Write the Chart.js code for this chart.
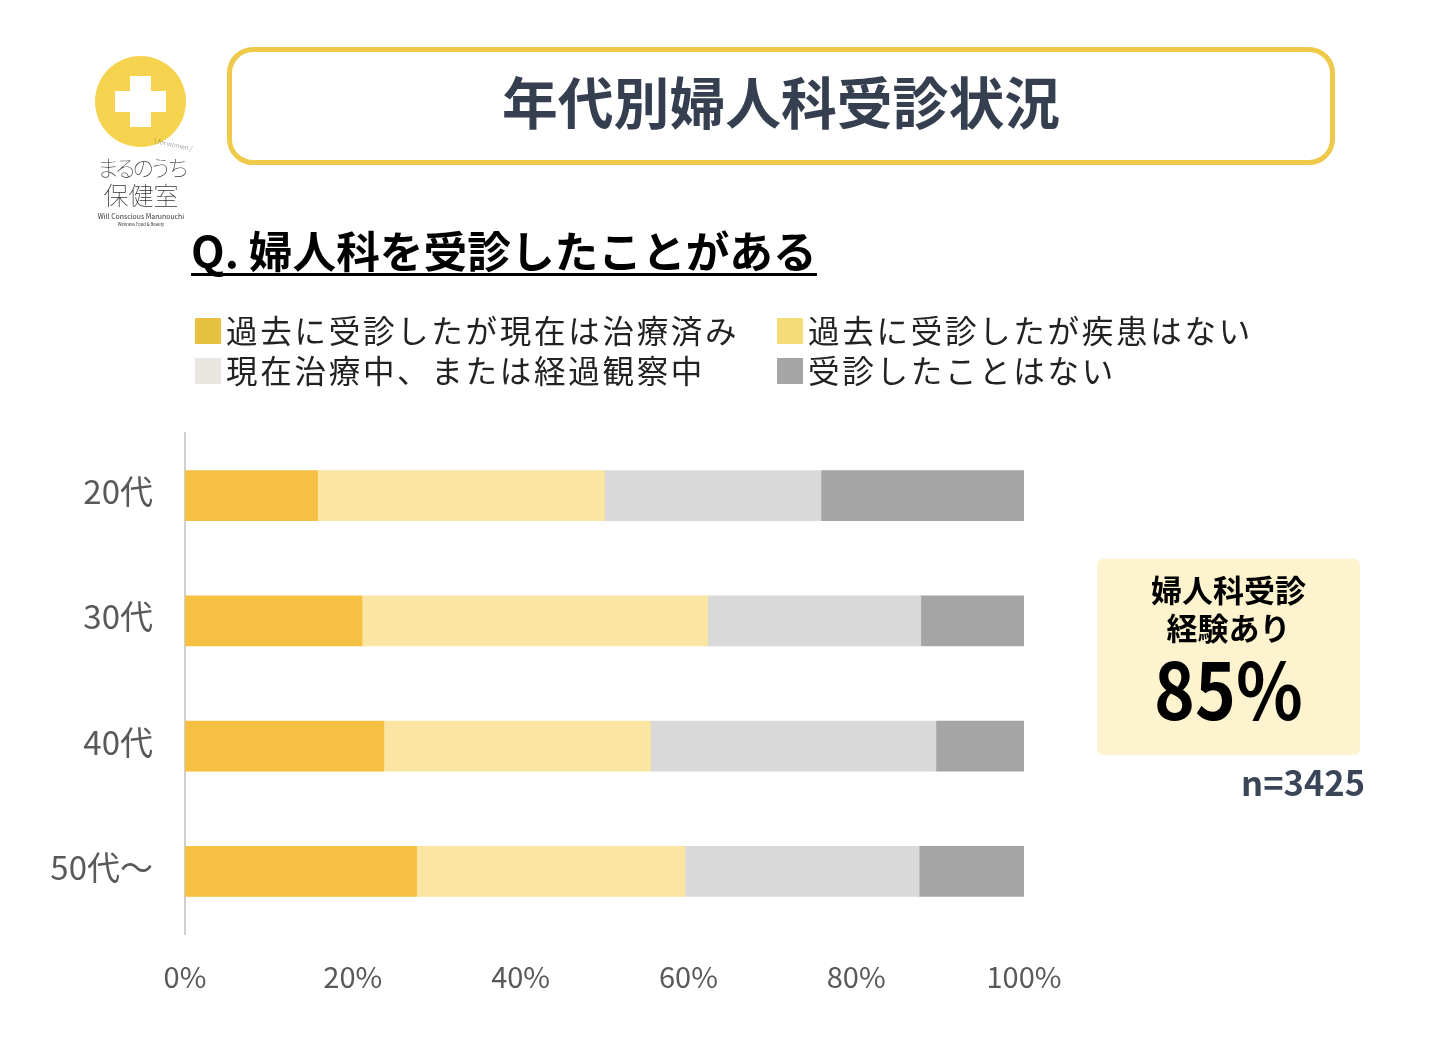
<!DOCTYPE html>
<html lang="ja">
<head>
<meta charset="utf-8">
<title>年代別婦人科受診状況</title>
<script src="https://cdn.jsdelivr.net/npm/chart.js@4"></script>
<style>
  html, body { margin: 0; padding: 0; background: #fff; }
  body { position: relative; width: 1436px; height: 1040px; overflow: hidden; font-family: "Noto Sans CJK JP", sans-serif; }
  #chart { position: absolute; left: 0; top: 0; }
  .abs { position: absolute; white-space: nowrap; line-height: 1; }
  .title-box { position: absolute; left: 227px; top: 47px; width: 1098px; height: 108px; border: 5px solid #eec94a; border-radius: 26px; text-align: center; line-height: 96px; font-size: 55.8px; font-weight: 700; color: #353f50; }
  .question { left: 191px; top: 226px; font-size: 43.7px; font-weight: 700; color: #000; line-height: 47px; border-bottom: 3px solid #000; }
  .swatch { position: absolute; width: 26px; height: 26px; }
  .legend-text { font-size: 31.5px; letter-spacing: 2.72px; color: #222; }
  .note { position: absolute; left: 1097px; top: 559px; width: 263px; height: 196px; background: #fdf3cf; border-radius: 6px; }
  .note div { position: absolute; width: 100%; text-align: center; color: #000; font-weight: 700; line-height: 1; white-space: nowrap; }
  .n { right: 71px; top: 764px; font-size: 34.5px; font-weight: 700; color: #3a4558; }
  .logo-circle { position: absolute; left: 95px; top: 56px; width: 91px; height: 91px; border-radius: 50%; background: #f6d34f; }
  .plus-h { position: absolute; left: 115px; top: 91px; width: 51px; height: 21px; background: #fff; }
  .plus-v { position: absolute; left: 130px; top: 76px; width: 21px; height: 51px; background: #fff; }
  .logo { color: #333; font-weight: 100; text-align: center; }
</style>
</head>
<body>
<canvas id="chart" width="1436" height="1040"></canvas>

<div class="logo-circle"></div><div class="plus-h"></div><div class="plus-v"></div>
<div class="abs logo" style="left:154px;top:141px;font-size:6.5px;transform:rotate(12deg)">\ for women /</div>
<div class="abs logo" style="left:96px;top:155px;font-size:22px;width:90px;letter-spacing:-4.4px">まるのうち</div>
<div class="abs logo" style="left:96px;top:182px;font-size:25px;width:90px">保健室</div>
<div class="abs logo" style="left:88px;top:213px;font-size:6.9px;width:106px;font-weight:400">Will Conscious Marunouchi</div>
<div class="abs logo" style="left:88px;top:222px;font-size:4.2px;width:106px;font-weight:400">Wellness Food &amp; Beauty</div>

<div class="title-box">年代別婦人科受診状況</div>
<div class="abs question">Q. 婦人科を受診したことがある</div>
<div id="legend"></div>

<div class="note">
  <div style="top:14px;font-size:31px">婦人科受診</div>
  <div style="top:52px;font-size:31px">経験あり</div>
  <div style="top:88px;font-size:78px;transform:scaleX(0.89)">85%</div>
</div>
<div class="abs n">n=3425</div>

<script>
const ageGroups = ['20代', '30代', '40代', '50代～'];
const seriesNames = ['過去に受診したが現在は治療済み', '過去に受診したが疾患はない', '現在治療中、または経過観察中', '受診したことはない'];
const treatedPast = [15.8, 21.1, 23.7, 27.6];
const noDisease = [34.2, 41.2, 31.8, 32.0];
const inTreatment = [25.8, 25.4, 34.0, 27.9];
const neverVisited = [24.2, 12.3, 10.5, 12.5];
const barColors = ['#f6c042', '#fbe5a2', '#d9d9d9', '#a5a5a5'];
const legendColors = ['#e7c140', '#f6dc78', '#e9e6e2', '#a5a5a5'];
const legendSpots = [[195, 318], [777, 318], [195, 358], [777, 358]];

// 凡例は2列配置で色も棒と違うのでHTMLで書く
const legendBox = document.getElementById('legend');
seriesNames.forEach(function (name, i) {
  const sw = document.createElement('div');
  sw.className = 'swatch';
  sw.style.left = legendSpots[i][0] + 'px';
  sw.style.top = legendSpots[i][1] + 'px';
  sw.style.background = legendColors[i];
  legendBox.appendChild(sw);
  const tx = document.createElement('div');
  tx.className = 'abs legend-text';
  tx.style.left = (legendSpots[i][0] + 31) + 'px';
  tx.style.top = (legendSpots[i][1] - 4) + 'px';
  tx.textContent = name;
  legendBox.appendChild(tx);
});

const values = [treatedPast, noDisease, inTreatment, neverVisited];
new Chart(document.getElementById('chart').getContext('2d'), {
  type: 'bar',
  data: {
    labels: ageGroups,
    datasets: seriesNames.map(function (name, i) {
      return { label: name, data: values[i], backgroundColor: barColors[i], borderWidth: 0, barThickness: 50 };
    })
  },
  options: {
    indexAxis: 'y',
    responsive: false,
    animation: false,
    layout: { padding: { top: 433, right: 412, bottom: 0, left: 0 } },
    plugins: { legend: { display: false }, tooltip: { enabled: false } },
    scales: {
      x: {
        stacked: true,
        min: 0,
        max: 100,
        afterFit: function (scale) { scale.height = 106; },
        grid: { display: false, drawTicks: false },
        border: { display: false },
        ticks: {
          stepSize: 20,
          maxRotation: 0,
          padding: 26,
          color: '#595959',
          font: { family: '"Noto Sans CJK JP"', size: 29 },
          callback: function (v) { return v + '%'; }
        }
      },
      y: {
        stacked: true,
        afterFit: function (scale) { scale.width = 185; },
        grid: { display: false, drawTicks: false },
        border: { display: true, color: '#d0d0d0', width: 2 },
        ticks: {
          padding: 32,
          labelOffset: -4,
          color: '#595959',
          font: { family: '"Noto Sans CJK JP"', size: 33 }
        }
      }
    }
  }
});
</script>
</body>
</html>
